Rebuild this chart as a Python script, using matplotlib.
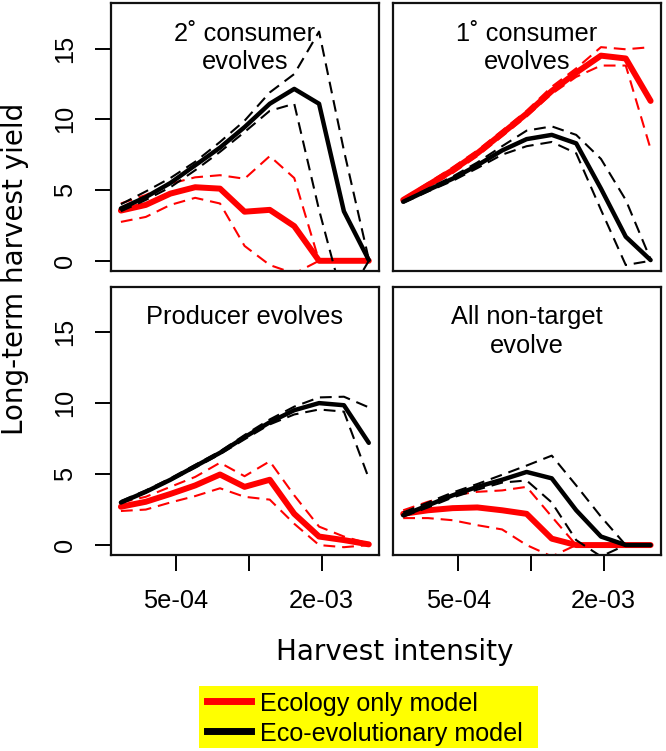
import matplotlib
matplotlib.use("Agg")
import matplotlib.pyplot as plt
from matplotlib.lines import Line2D
from matplotlib.patches import Rectangle
import numpy as np

plt.rcParams['font.family'] = ['Liberation Sans', 'DejaVu Sans']
plt.rcParams['lines.scale_dashes'] = False

# ---------------- data ----------------
harvest = [2.96e-4, 3.75e-4, 4.74e-4, 6.0e-4, 7.6e-4, 9.6e-4,
           1.22e-3, 1.54e-3, 1.95e-3, 2.47e-3, 3.13e-3]

titles = ["2\u02da consumer\nevolves", "1\u02da consumer\nevolves",
          "Producer evolves", "All non-target\nevolve"]

# Panel 1: secondary consumer evolves
eco_mean_1 = [3.55, 3.95, 4.75, 5.2, 5.1, 3.47, 3.6, 2.45, 0.0, 0.0, 0.0]
eco_hi_1   = [4.05, 4.65, 5.45, 5.9, 6.05, 5.8, 7.4, 5.85, 0.0, 0.0, 0.0]
eco_lo_1   = [2.75, 3.1, 3.95, 4.45, 4.05, 1.05, -0.3, -0.9, 0.0, 0.0, 0.0]
evo_mean_1 = [3.7, 4.5, 5.5, 6.75, 8.0, 9.45, 11.1, 12.15, 11.1, 3.5, 0.05]
evo_hi_1   = [4.0, 4.9, 5.85, 7.0, 8.4, 9.9, 11.9, 13.2, 16.2, 7.8, 0.1]
evo_lo_1   = [3.5, 4.3, 5.2, 6.4, 7.7, 9.1, 10.6, 11.1, 3.6, -3.0, 0.0]

# Panel 2: primary consumer evolves
eco_mean_2 = [4.3, 5.35, 6.4, 7.6, 9.0, 10.4, 12.0, 13.3, 14.5, 14.3, 11.3]
eco_hi_2   = [4.4, 5.5, 6.6, 7.8, 9.2, 10.6, 12.3, 13.6, 15.1, 14.95, 15.1]
eco_lo_2   = [4.2, 5.2, 6.2, 7.4, 8.8, 10.2, 11.8, 13.0, 13.8, 13.8, 7.9]
evo_mean_2 = [4.17, 5.0, 5.8, 6.75, 7.8, 8.6, 8.9, 8.3, 5.1, 1.7, 0.05]
evo_hi_2   = [4.2, 5.1, 5.95, 6.95, 8.1, 9.2, 9.5, 8.9, 7.2, 4.3, 0.1]
evo_lo_2   = [4.1, 4.9, 5.65, 6.55, 7.5, 8.1, 8.4, 7.6, 3.6, -0.3, 0.0]

# Panel 3: producer evolves
eco_mean_3 = [2.7, 3.05, 3.6, 4.2, 4.97, 4.1, 4.6, 2.2, 0.6, 0.35, 0.05]
eco_hi_3   = [3.0, 3.4, 4.1, 4.8, 5.8, 4.85, 5.9, 3.5, 1.3, 0.6, 0.1]
eco_lo_3   = [2.4, 2.5, 3.0, 3.45, 4.0, 3.4, 3.2, 1.5, 0.0, -0.15, 0.0]
evo_mean_3 = [3.0, 3.75, 4.6, 5.55, 6.5, 7.6, 8.65, 9.5, 10.0, 9.85, 7.2]
evo_hi_3   = [3.1, 3.85, 4.7, 5.65, 6.6, 7.75, 8.85, 9.75, 10.4, 10.45, 9.7]
evo_lo_3   = [2.95, 3.7, 4.55, 5.45, 6.4, 7.45, 8.5, 9.2, 9.55, 9.4, 4.7]

# Panel 4: all non-target evolve
eco_mean_4 = [2.2, 2.45, 2.6, 2.65, 2.45, 2.2, 0.45, 0.0, 0.0, 0.0, 0.0]
eco_hi_4   = [2.45, 3.05, 3.5, 3.75, 3.85, 4.1, 2.0, 0.0, 0.0, 0.0, 0.0]
eco_lo_4   = [1.9, 1.9, 1.75, 1.4, 1.1, 0.0, -0.8, 0.0, 0.0, 0.0, 0.0]
evo_mean_4 = [2.1, 2.8, 3.5, 4.1, 4.6, 5.15, 4.7, 2.45, 0.6, 0.0, 0.0]
evo_hi_4   = [2.3, 3.0, 3.7, 4.3, 4.95, 5.6, 6.3, 4.2, 2.0, 0.0, 0.0]
evo_lo_4   = [2.0, 2.65, 3.35, 3.9, 4.4, 4.55, 3.0, 0.35, -0.8, 0.0, 0.0]

panels = [
    (eco_mean_1, eco_hi_1, eco_lo_1, evo_mean_1, evo_hi_1, evo_lo_1),
    (eco_mean_2, eco_hi_2, eco_lo_2, evo_mean_2, evo_hi_2, evo_lo_2),
    (eco_mean_3, eco_hi_3, eco_lo_3, evo_mean_3, evo_hi_3, evo_lo_3),
    (eco_mean_4, eco_hi_4, eco_lo_4, evo_mean_4, evo_hi_4, evo_lo_4),
]

xticks = [5e-4, 1e-3, 2e-3]
xticklabels = ["5e-04", "", "2e-03"]
yticks = [0, 5, 10, 15]
ylim = (-0.7, 18.2)

legend_labels = ["Ecology only model", "Eco-evolutionary model"]
RED = "#FF0000"
BLACK = "#000000"

# ---------------- layout ----------------
W, H = 666, 751
fig = plt.figure(figsize=(W / 100, H / 100), dpi=100)

def rect(l, r, t, b):
    return [l / W, 1 - b / H, (r - l) / W, (b - t) / H]

rects = [rect(111, 378.7, 3.3, 270.7), rect(393.3, 660.5, 3.3, 270.7),
         rect(111, 378.7, 286.7, 555), rect(393.3, 660.5, 286.7, 555)]

lx = np.log10(harvest)
span = lx[-1] - lx[0]
xlim = (10 ** (lx[0] - 0.04 * span), 10 ** (lx[-1] + 0.04 * span))

DASH = (8.5, 5)
for i, (rc, data, title) in enumerate(zip(rects, panels, titles)):
    ax = fig.add_axes(rc)
    em, eh, el, vm, vh, vl = data
    ax.plot(harvest, em, color=RED, lw=4.3, solid_capstyle='round', solid_joinstyle='round')
    ax.plot(harvest, eh, color=RED, lw=1.5, dashes=DASH)
    ax.plot(harvest, el, color=RED, lw=1.5, dashes=DASH)
    ax.plot(harvest, vm, color=BLACK, lw=3.2, solid_capstyle='round', solid_joinstyle='round')
    ax.plot(harvest, vh, color=BLACK, lw=1.5, dashes=DASH)
    ax.plot(harvest, vl, color=BLACK, lw=1.5, dashes=DASH)

    ax.set_xscale('log')
    ax.set_xlim(*xlim)
    ax.set_ylim(*ylim)
    ax.minorticks_off()
    for s in ax.spines.values():
        s.set_linewidth(1.6)
        s.set_color('#111111')

    if i >= 2:
        ax.set_xticks(xticks)
        ax.set_xticklabels(xticklabels)
        ax.tick_params(axis='x', direction='out', length=11.5, width=1.4,
                       labelsize=18.3, pad=13)
    else:
        ax.set_xticks([])
    if i % 2 == 0:
        ax.set_yticks(yticks)
        ax.set_yticklabels([str(v) for v in yticks], rotation=90, va='center')
        ax.tick_params(axis='y', direction='out', length=11.5, width=1.4,
                       labelsize=18.3, pad=13)
    else:
        ax.set_yticks([])

    hpx = rc[3] * H
    lines = title.split("\n")
    for j, ln in enumerate(lines):
        ax.text(0.5, 1 - (37.5 + 28.5 * j) / hpx, ln, transform=ax.transAxes,
                ha='center', va='baseline', fontsize=18.3)

# axis titles
fig.text(395 / W, 1 - 660 / H, "Harvest intensity", ha='center', va='baseline',
         fontsize=20, family='DejaVu Sans')
fig.text(15 / W, 1 - 268.5 / H, "Long-term harvest yield", ha='center', va='center',
         rotation=90, fontsize=20, family='DejaVu Sans')

# legend box
fig.patches.append(Rectangle((199.3 / W, 1 - 748.3 / H), 338.4 / W, 62.3 / H,
                             transform=fig.transFigure, facecolor='#FFFF00',
                             edgecolor='none', zorder=1))
for yl, col, lab, yb in [(701, RED, legend_labels[0], 710.7),
                         (731, BLACK, legend_labels[1], 740.5)]:
    fig.lines.append(Line2D([206.7 / W, 250.7 / W], [1 - yl / H] * 2, color=col,
                            lw=5, transform=fig.transFigure, zorder=2))
    fig.text(260 / W, 1 - yb / H, lab, ha='left', va='baseline', fontsize=18.1, zorder=3)

fig.savefig("out.png", dpi=100)
